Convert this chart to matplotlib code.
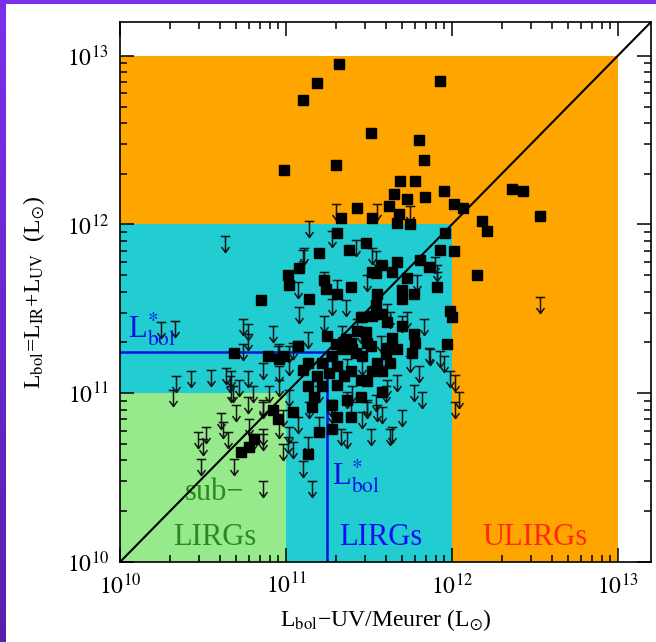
import numpy as np
import matplotlib
matplotlib.use("Agg")
import matplotlib.pyplot as plt
from matplotlib.path import Path
from matplotlib.patches import Rectangle
from matplotlib.colors import LinearSegmentedColormap
from matplotlib.ticker import LogLocator, FuncFormatter, NullFormatter

plt.rcParams['font.family'] = ['Liberation Serif', 'DejaVu Serif']
plt.rcParams['mathtext.fontset'] = 'stix'

# log10 L_bol (UV/Meurer) and log10 L_bol (IR+UV) of detections
det_lx = [11.32, 11.19, 11.10, 11.93, 11.51, 11.80, 11.83, 11.30, 10.99, 11.69,
          11.78, 11.65, 11.84, 11.95, 11.73, 11.43, 11.62, 12.01, 12.07, 11.68,
          11.52, 11.33, 11.67, 11.75, 12.36, 12.43, 12.53, 12.18, 12.21, 11.31,
          11.20, 11.38, 11.48, 11.08, 11.01, 11.02, 11.14, 10.85, 11.23, 11.39,
          11.52, 11.45, 10.69, 11.07, 10.89, 11.96, 12.01, 12.15, 11.93, 11.58,
          11.67, 11.54, 11.64, 11.73, 11.81, 11.86, 11.91, 11.70, 11.77, 11.55,
          11.70, 11.99, 12.00, 11.54, 11.70, 11.77, 11.97, 11.64, 11.49, 11.60,
          11.67, 11.76, 11.46, 11.55, 11.52, 11.49, 11.58, 11.78, 11.24, 11.31,
          11.46, 11.52, 11.58, 11.61, 11.43, 11.39, 11.30, 11.25, 11.34, 11.28,
          11.40, 11.51, 11.61, 11.63, 11.39, 11.31, 11.22, 11.13, 11.07, 10.98,
          11.19, 11.10, 11.13, 11.22, 11.31, 11.45, 11.58, 11.45, 11.37, 11.28,
          11.16, 11.04, 11.31, 11.39, 11.20, 11.28, 10.73, 10.78, 10.81, 10.92,
          10.95, 10.96, 11.13, 11.36, 11.42, 11.26, 11.48, 11.35, 11.17]
det_ly = [12.95, 12.84, 12.74, 12.85, 12.54, 12.50, 12.38, 12.35, 12.32, 12.26,
          12.26, 12.18, 12.16, 12.20, 12.15, 12.10, 12.11, 12.12, 12.10, 12.06,
          12.04, 12.04, 12.01, 12.00, 12.21, 12.20, 12.05, 12.02, 11.96, 11.95,
          11.83, 11.85, 11.89, 11.74, 11.70, 11.64, 11.56, 11.55, 11.67, 11.63,
          11.72, 11.45, 11.24, 11.28, 11.22, 11.95, 11.84, 11.70, 11.85, 11.76,
          11.78, 11.71, 11.72, 11.68, 11.79, 11.75, 11.63, 11.61, 11.59, 11.59,
          11.56, 11.49, 11.45, 11.52, 11.40, 11.35, 11.29, 11.33, 11.30, 11.23,
          11.26, 11.24, 11.22, 11.18, 11.13, 11.07, 11.13, 11.30, 11.62, 11.59,
          11.45, 11.46, 11.47, 11.42, 11.37, 11.30, 11.29, 11.34, 11.26, 11.22,
          11.26, 11.28, 11.27, 11.18, 11.13, 11.16, 11.18, 11.18, 11.28, 11.22,
          11.10, 11.14, 11.04, 11.04, 11.05, 11.08, 11.01, 10.98, 10.96, 10.93,
          10.92, 10.89, 10.86, 10.86, 10.77, 10.79, 10.65, 10.68, 10.73, 10.90,
          10.85, 11.20, 10.64, 11.32, 11.24, 11.12, 11.36, 11.10, 10.98]

# upper limits (log10)
lim_lx = [11.30, 11.55, 11.75, 11.14, 10.63, 10.25, 10.33, 10.74, 10.77, 10.74,
          10.77, 11.28, 11.42, 11.52, 11.11, 11.23, 11.31, 11.07, 11.49, 11.36,
          11.08, 11.28, 11.23, 11.34, 11.45, 11.13, 10.96, 11.04, 10.55, 10.64,
          10.67, 10.77, 10.72, 10.86, 10.80, 10.67, 10.96, 11.02, 11.54, 11.79,
          11.91, 11.90, 11.61, 11.73, 11.83, 11.70, 11.64, 11.86, 11.93, 11.95,
          11.80, 11.67, 11.61, 11.77, 11.82, 11.60, 11.54, 11.49, 11.55, 11.70,
          12.02, 12.04, 12.02, 12.53, 10.34, 10.32, 10.43, 10.66, 10.68, 10.70,
          10.77, 10.86, 10.61, 10.62, 10.78, 10.52, 10.47, 10.50, 10.65, 10.80,
          10.86, 10.49, 10.69, 10.86, 10.98, 11.04, 11.10, 11.16, 10.96, 11.01,
          11.10, 11.43, 11.63, 11.91, 11.57, 11.75, 11.87, 11.99, 11.46, 11.37,
          11.40, 11.37, 11.27, 11.14, 11.02, 10.90, 10.86, 10.86, 10.98, 11.07,
          11.20, 11.28, 11.39, 11.49, 11.58, 11.46, 11.51, 11.64, 11.63, 11.33,
          11.37, 11.13, 11.02, 10.92, 10.95, 11.02, 10.96, 11.20]
lim_ly = [12.12, 12.12, 12.11, 12.02, 11.93, 11.42, 11.43, 11.44, 11.35, 11.29,
          11.41, 11.96, 11.91, 11.86, 11.86, 11.72, 11.67, 11.66, 11.70, 11.55,
          11.51, 11.56, 11.46, 11.40, 11.39, 11.36, 11.29, 11.30, 11.14, 11.15,
          11.13, 11.13, 11.08, 11.18, 11.04, 11.04, 11.16, 11.20, 11.84, 11.70,
          11.72, 11.81, 11.53, 11.48, 11.44, 11.46, 11.34, 11.27, 11.25, 11.22,
          11.16, 11.11, 11.08, 11.05, 11.01, 11.04, 10.99, 10.95, 10.93, 10.90,
          11.11, 11.01, 10.95, 11.57, 11.10, 11.02, 11.13, 11.10, 11.04, 10.93,
          10.98, 10.95, 10.88, 10.83, 10.85, 10.80, 10.77, 10.73, 10.77, 10.76,
          10.76, 10.61, 10.61, 10.48, 10.70, 10.71, 10.60, 10.48, 10.83, 10.74,
          11.85, 11.44, 11.48, 11.76, 11.34, 11.22, 11.26, 11.13, 11.20, 11.20,
          11.04, 11.01, 10.96, 10.95, 11.02, 11.04, 10.96, 10.79, 10.90, 10.86,
          10.86, 10.92, 10.95, 10.96, 10.92, 10.89, 10.79, 10.80, 10.79, 10.79,
          10.77, 10.74, 10.80, 11.40, 11.28, 11.28, 11.08, 11.04]

# class boundaries and L*_bol
bounds = [1e13, 1e12, 1e11]
colors = ['#ffa500', '#22cdd1', '#96ea8c']
lstar = 10**11.245
lo, hi = 1e10, 10**13.2

det_x = 10**np.array(det_lx)
det_y = 10**np.array(det_ly)
lim_x = 10**np.array(lim_lx)
lim_y = 10**np.array(lim_ly)

# upper limit symbol: bar at the value, arrow pointing down
arrow = Path([(-0.3, 0), (0.3, 0), (0, 0), (0, -1), (-0.25, -0.66), (0, -1), (0.25, -0.66)],
             [Path.MOVETO, Path.LINETO, Path.MOVETO, Path.LINETO,
              Path.MOVETO, Path.LINETO, Path.LINETO])

fig = plt.figure(figsize=(6.56, 6.42), dpi=100)

# purple frame on the left and top
bar = fig.add_axes([0, 0, 6 / 656, 1])
grad = np.linspace(0, 1, 256).reshape(-1, 1)
pcm = LinearSegmentedColormap.from_list('p', ['#7a30ec', '#5a1eae'])
bar.imshow(grad, aspect='auto', cmap=pcm, extent=[0, 1, 0, 1])
bar.axis('off')
top = fig.add_axes([0, 1 - 4 / 642, 1, 4 / 642])
top.set_facecolor('#7a30ec')
top.set_xticks([]); top.set_yticks([])
for s in top.spines.values():
    s.set_visible(False)

ax = fig.add_axes([120 / 656, 80 / 642, 531 / 656, 540 / 642])
ax.set_xscale('log')
ax.set_yscale('log')
ax.set_xlim(lo, hi)
ax.set_ylim(lo, hi)

for b, c in zip(bounds, colors):
    ax.add_patch(Rectangle((lo, lo), b - lo, b - lo, facecolor=c, edgecolor='none', zorder=0))

ax.plot([lo, lstar, lstar], [lstar, lstar, lo], color='#0a10e0', lw=1.8, zorder=2)
ax.plot(lim_x, lim_y, linestyle='none', marker=arrow, markersize=23,
        mfc='none', mec='#151515', mew=1.1, zorder=3)
ax.plot(det_x, det_y, linestyle='none', marker='s', markersize=7,
        color='black', zorder=4)
ax.plot([lo, hi], [lo, hi], color='black', lw=1.5, zorder=5)

ax.text(10**10.05, 10**11.33, r'L$^{*}_{\rm bol}$', color='#0a10e0', fontsize=22)
ax.text(10**11.28, 10**10.46, r'L$^{*}_{\rm bol}$', color='#0a10e0', fontsize=22)
ax.text(10**10.57, 10**10.37, 'sub−', color='#2a8a1e', fontsize=22, ha='center')
ax.text(10**10.57, 10**10.10, 'LIRGs', color='#2a8a1e', fontsize=22, ha='center')
ax.text(10**11.57, 10**10.10, 'LIRGs', color='#1010f0', fontsize=22, ha='center')
ax.text(10**12.50, 10**10.10, 'ULIRGs', color='#ff2a10', fontsize=22, ha='center')

ax.xaxis.set_major_locator(LogLocator(base=10))
ax.yaxis.set_major_locator(LogLocator(base=10))
ax.xaxis.set_minor_locator(LogLocator(base=10, subs=np.arange(2, 10)))
ax.yaxis.set_minor_locator(LogLocator(base=10, subs=np.arange(2, 10)))
fmt = FuncFormatter(lambda v, p: r'$10^{%d}$' % round(np.log10(v)))
ax.xaxis.set_major_formatter(fmt)
ax.yaxis.set_major_formatter(fmt)
ax.xaxis.set_minor_formatter(NullFormatter())
ax.yaxis.set_minor_formatter(NullFormatter())
ax.tick_params(which='both', direction='in', top=True, right=True, width=1.1, colors='black')
ax.tick_params(which='major', length=10, labelsize=17, pad=8)
ax.tick_params(which='minor', length=5)
for s in ax.spines.values():
    s.set_linewidth(1.2)

ax.set_xlabel(r'L$_{\rm bol}$−UV/Meurer (L$_{\odot}$)', fontsize=17, labelpad=6)
ax.set_ylabel(r'L$_{\rm bol}$=L$_{\rm IR}$+L$_{\rm UV}$  (L$_{\odot}$)', fontsize=17, labelpad=14)

fig.savefig('out.png', dpi=100)
